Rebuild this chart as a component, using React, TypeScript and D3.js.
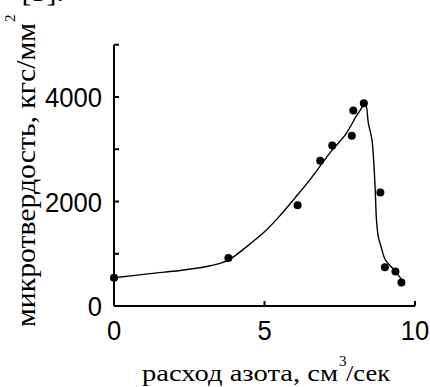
import React from "react";
import * as d3 from "d3";

const pointX = [0, 3.8, 6.1, 6.85, 7.25, 7.95, 7.9, 8.3, 8.85, 9.0, 9.35, 9.55];
const pointY = [540, 920, 1930, 2780, 3070, 3740, 3260, 3880, 2170, 740, 660, 450];

const curveX = [0, 1.2, 2.2, 3.2, 3.8, 4.5, 5.0, 5.5, 6.0, 6.5, 7.2, 7.7, 8.1, 8.35, 8.45, 8.57, 8.63, 8.68, 8.72, 8.78, 8.88, 9.0, 9.3, 9.6];
const curveY = [540, 620, 680, 770, 880, 1180, 1420, 1720, 2060, 2410, 2950, 3290, 3680, 3860, 3500, 3180, 2750, 2200, 1650, 1330, 1120, 900, 690, 480];

const xTicks = [0, 5, 10];
const xTickLabels = ["0", "5", "10"];
const yTicks = [0, 2000, 4000];
const yTickLabels = ["0", "2000", "4000"];
const yMinorTicks = [1000, 2000, 3000, 4000, 5000];

const xTitle = "расход азота, см";
const xTitleSup = "3";
const xTitleTail = "/сек";
const yTitle = "микротвердость, кгс/мм";
const yTitleSup = "2";
const topText = "– [5].";

export default function App() {
  const x = d3.scaleLinear().domain([0, 10]).range([114, 415]);
  const y = d3.scaleLinear().domain([0, 5000]).range([306, 44.75]);

  const line = d3
    .line<number>()
    .x((_, i) => x(curveX[i]))
    .y((d) => y(d))
    .curve(d3.curveCatmullRom.alpha(0.5));

  const sans = "'Liberation Sans', Arial, sans-serif";
  const serif = "'Liberation Serif', 'Times New Roman', serif";
  const digitW = 14.25;

  return (
    <svg
      width={430}
      height={387}
      style={{ position: "absolute", left: 0, top: 0, background: "#fff" }}
    >
      <rect x={0} y={0} width={430} height={387} fill="#ffffff" />
      <text x={-1} y={1} fontFamily={serif} fontSize={30} fill="#000">
        {topText}
      </text>

      {/* Y axis */}
      <line x1={x(0)} x2={x(0)} y1={y(5000)} y2={y(0)} stroke="#000" strokeWidth={2} />
      {yMinorTicks.map((t) => (
        <line key={t} x1={x(0)} x2={x(0) + 5} y1={y(t)} y2={y(t)} stroke="#000" strokeWidth={2} />
      ))}
      {yTicks.map((t, i) => (
        <text
          key={t}
          x={102}
          y={y(t) + 10}
          textAnchor="end"
          fontFamily={sans}
          fontSize={27}
          fill="#000"
          textLength={yTickLabels[i].length * digitW}
          lengthAdjust="spacingAndGlyphs"
        >
          {yTickLabels[i]}
        </text>
      ))}

      {/* X axis */}
      <line x1={x(0)} x2={x(10)} y1={y(0)} y2={y(0)} stroke="#000" strokeWidth={2} />
      {xTicks.slice(1).map((t) => (
        <line key={t} x1={x(t)} x2={x(t)} y1={y(0)} y2={y(0) - 5} stroke="#000" strokeWidth={2} />
      ))}
      {xTicks.map((t, i) => (
        <text
          key={t}
          x={x(t)}
          y={340}
          textAnchor="middle"
          fontFamily={sans}
          fontSize={27}
          fill="#000"
          textLength={xTickLabels[i].length * digitW}
          lengthAdjust="spacingAndGlyphs"
        >
          {xTickLabels[i]}
        </text>
      ))}

      {/* Curve */}
      <path d={line(curveY) || ""} fill="none" stroke="#000" strokeWidth={1.4} />

      {/* Points */}
      {pointY.map((v, i) => (
        <circle key={i} cx={x(pointX[i])} cy={y(v)} r={4} fill="#000" />
      ))}

      {/* X title */}
      <text x={142} y={381} fontFamily={serif} fontSize={23} fill="#000" textLength={196} lengthAdjust="spacingAndGlyphs">
        {xTitle}
      </text>
      <text x={339} y={366} fontFamily={serif} fontSize={15} fill="#000">
        {xTitleSup}
      </text>
      <text x={346} y={381} fontFamily={serif} fontSize={23} fill="#000" textLength={44} lengthAdjust="spacingAndGlyphs">
        {xTitleTail}
      </text>

      {/* Y title */}
      <g transform="translate(35,327) rotate(-90)">
        <text x={0} y={0} fontFamily={serif} fontSize={27} fill="#000" textLength={304} lengthAdjust="spacingAndGlyphs">
          {yTitle}
        </text>
        <text x={305} y={-20} fontFamily={serif} fontSize={15} fill="#000">
          {yTitleSup}
        </text>
      </g>
    </svg>
  );
}
